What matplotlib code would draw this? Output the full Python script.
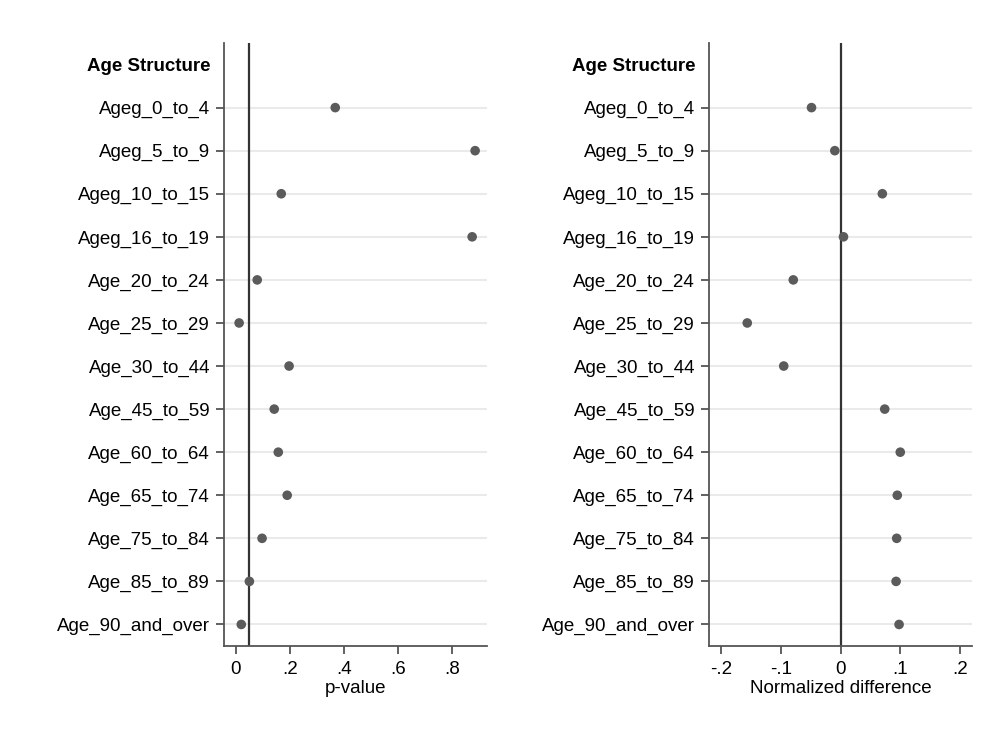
import numpy as np
import matplotlib
matplotlib.use("Agg")
import matplotlib.pyplot as plt

plt.rcParams["font.family"] = ["Liberation Sans", "DejaVu Sans"]

HEADER = "Age Structure"
VARS = ["Ageg_0_to_4", "Ageg_5_to_9", "Ageg_10_to_15", "Ageg_16_to_19",
        "Age_20_to_24", "Age_25_to_29", "Age_30_to_44", "Age_45_to_59",
        "Age_60_to_64", "Age_65_to_74", "Age_75_to_84", "Age_85_to_89",
        "Age_90_and_over"]
PVALS = [0.368, 0.886, 0.168, 0.875, 0.079, 0.012, 0.197, 0.142,
         0.157, 0.190, 0.097, 0.050, 0.020]
NDIFF = [-0.0485, -0.0095, 0.070, 0.005, -0.079, -0.156, -0.095, 0.074,
         0.100, 0.095, 0.094, 0.093, 0.098]

P_TICKS = [0, 0.2, 0.4, 0.6, 0.8]
P_LABELS = ["0", ".2", ".4", ".6", ".8"]
N_TICKS = [-0.2, -0.1, 0, 0.1, 0.2]
N_LABELS = ["-.2", "-.1", "0", ".1", ".2"]

DOT = "#5b5b5b"
SPINE = "#555555"
FS = 13.5

fig = plt.figure(figsize=(9.98, 7.31), dpi=100)
# axes positions in figure fractions (from pixel layout)
ax1 = fig.add_axes([224 / 998, 1 - 646 / 731, (487 - 224) / 998, (646 - 43) / 731])
ax2 = fig.add_axes([709 / 998, 1 - 646 / 731, (972 - 709) / 998, (646 - 43) / 731])

ypos = np.arange(len(VARS)) + 1  # header sits at 0


def panel(ax, vals, ref, xlim, ticks, labels, xlabel):
    for y in ypos:
        ax.axhline(y, color="#eaeaea", lw=1.5, zorder=0)
    ax.axvline(ref, color="#333333", lw=1.6, zorder=1)
    ax.scatter(vals, ypos, s=48, color=DOT, zorder=3, edgecolors="none")
    ax.set_xlim(*xlim)
    ax.set_ylim(len(VARS) + 0.5, -0.5)
    ax.set_yticks(ypos)
    ax.set_yticklabels(VARS, fontsize=FS)
    ax.annotate(HEADER, xy=(0, 0), xycoords=ax.get_yaxis_transform(),
                xytext=(-9.5, -1.5), textcoords="offset points",
                ha="right", va="center", fontsize=FS, fontweight="bold")
    ax.set_xticks(ticks)
    ax.set_xticklabels(labels, fontsize=FS)
    ax.set_xlabel(xlabel, fontsize=FS, labelpad=1)
    for s in ["top", "right"]:
        ax.spines[s].set_visible(False)
    for s in ["left", "bottom"]:
        ax.spines[s].set_color(SPINE)
        ax.spines[s].set_linewidth(1.3)
    ax.tick_params(axis="both", color=SPINE, width=1.3, length=6, pad=4)
    ax.tick_params(axis="x", pad=5)


panel(ax1, PVALS, 0.05, (-0.044, 0.93), P_TICKS, P_LABELS, "p-value")
panel(ax2, NDIFF, 0.0, (-0.22, 0.22), N_TICKS, N_LABELS, "Normalized difference")

fig.savefig("out.png", dpi=100)
